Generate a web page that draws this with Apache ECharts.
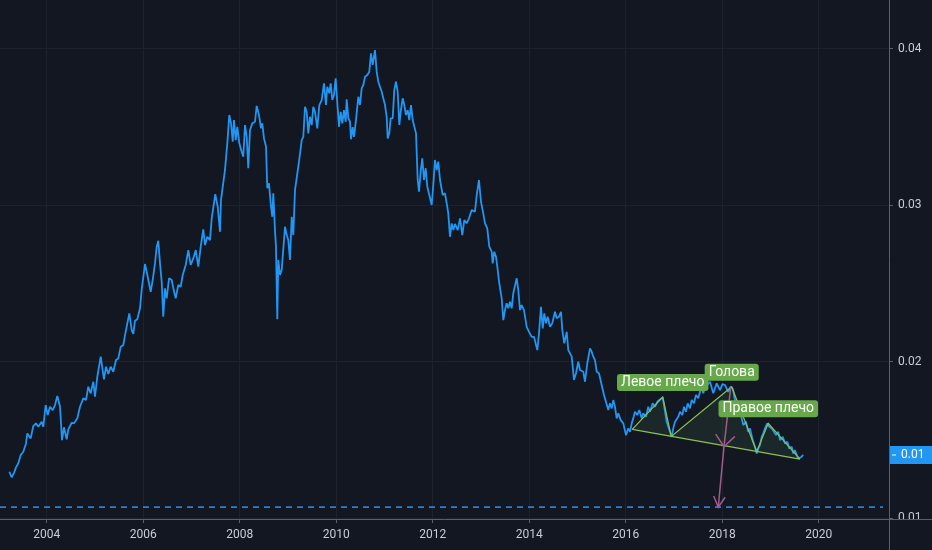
<!DOCTYPE html>
<html>
<head>
<meta charset="utf-8">
<script src="https://cdn.jsdelivr.net/npm/echarts@6/dist/echarts.min.js"></script>
<style>
html,body{margin:0;padding:0;background:#131722;}
#c{width:932px;height:550px;}
</style>
</head>
<body>
<div id="c"></div>
<script>
// ---- data (decimal years, price) ----
const dates = [
2003.225,2003.274,2003.322,2003.364,2003.411,2003.461,2003.515,2003.571,2003.598,2003.668,
2003.722,2003.778,2003.826,2003.896,2003.929,2003.979,2004.021,2004.068,2004.124,2004.172,
2004.220,2004.276,2004.317,2004.358,2004.414,2004.448,2004.518,2004.566,2004.634,2004.690,
2004.758,2004.814,2004.862,2004.912,2004.966,2005.001,2005.049,2005.119,2005.187,2005.229,
2005.277,2005.326,2005.380,2005.436,2005.484,2005.534,2005.587,2005.623,2005.712,2005.762,
2005.795,2005.830,2005.878,2005.934,2005.969,2006.002,2006.037,2006.072,2006.106,2006.155,
2006.197,2006.244,2006.280,2006.313,2006.348,2006.383,2006.416,2006.452,2006.487,2006.535,
2006.591,2006.624,2006.673,2006.727,2006.777,2006.819,2006.881,2006.935,2006.984,2007.038,
2007.088,2007.142,2007.192,2007.245,2007.281,2007.328,2007.384,2007.420,2007.453,2007.494,
2007.544,2007.592,2007.612,2007.648,2007.695,2007.743,2007.784,2007.820,2007.855,2007.882,
2007.917,2007.950,2007.992,2008.041,2008.074,2008.110,2008.145,2008.178,2008.213,2008.261,
2008.317,2008.352,2008.400,2008.441,2008.468,2008.503,2008.545,2008.572,2008.607,2008.642,
2008.675,2008.696,2008.731,2008.752,2008.779,2008.800,2008.835,2008.870,2008.903,2008.939,
2008.974,2009.007,2009.042,2009.078,2009.111,2009.146,2009.181,2009.229,
2009.285,2009.318,2009.353,2009.388,2009.422,2009.457,2009.492,2009.525,2009.560,2009.608,
2009.650,2009.699,2009.747,2009.788,2009.815,2009.857,2009.886,2009.919,2009.954,2009.989,
2010.023,2010.058,2010.093,2010.126,2010.161,2010.197,2010.217,2010.251,2010.286,2010.307,
2010.342,2010.369,2010.410,2010.458,2010.493,2010.528,2010.561,2010.597,2010.644,2010.686,
2010.721,2010.756,2010.804,2010.839,2010.872,2010.908,2010.943,2010.976,2011.011,2011.046,
2011.067,2011.100,2011.129,2011.171,2011.204,2011.239,2011.274,2011.308,2011.337,2011.378,
2011.411,2011.446,2011.482,2011.515,2011.550,2011.585,2011.618,2011.654,2011.689,2011.716,
2011.751,2011.784,2011.819,2011.855,2011.888,2011.929,2011.979,2012.012,2012.047,2012.083,
2012.116,2012.151,2012.207,2012.255,2012.290,2012.323,2012.358,2012.394,2012.427,2012.462,
2012.518,2012.566,2012.613,2012.655,2012.704,2012.752,2012.808,2012.841,2012.876,2012.912,
2012.959,2013.001,2013.048,2013.084,2013.131,2013.173,2013.223,2013.243,2013.276,2013.312,
2013.347,2013.380,2013.430,2013.463,2013.498,2013.533,2013.567,2013.602,2013.637,2013.670,
2013.741,2013.774,2013.809,2013.844,2013.892,2013.948,2013.996,2014.052,2014.099,2014.168,
2014.203,2014.244,2014.280,2014.313,2014.348,2014.383,2014.431,2014.478,2014.534,2014.570,
2014.617,2014.659,2014.686,2014.727,2014.777,2014.810,2014.845,2014.881,2014.928,2014.970,
2015.017,2015.053,2015.088,2015.121,2015.156,2015.204,2015.260,2015.295,2015.328,2015.363,
2015.399,2015.446,2015.502,2015.550,2015.591,2015.639,2015.674,2015.710,2015.743,2015.778,
2015.813,2015.846,2015.896,2015.950,2016.006,2016.054,2016.089,2016.124,2016.157,2016.192,
2016.240,2016.282,2016.331,2016.364,2016.420,2016.468,2016.503,2016.559,2016.607,2016.655,
2016.711,2016.767,2016.800,2016.849,2016.883,2016.918,2016.953,2016.986,2017.021,2017.057,
2017.090,2017.125,2017.173,2017.208,2017.249,2017.285,2017.332,2017.368,2017.415,2017.457,
2017.504,2017.540,2017.575,2017.608,2017.643,
2017.705,2017.747,2017.815,2017.886,2017.954,2018.006,2018.058,2018.126,2018.176,2018.223,
2018.265,2018.333,2018.404,2018.437,2018.493,2018.541,2018.576,2018.632,2018.679,2018.715,
2018.748,2018.783,2018.818,2018.851,2018.887,2018.934,2018.976,2019.026,2019.073,2019.115,
2019.162,2019.198,2019.254,2019.301,2019.349,2019.390,2019.440,2019.473,2019.508,2019.544,
2019.577,2019.612,2019.647,2019.680
];
const prices = [
0.01296,0.01260,0.01289,0.01324,0.01350,0.01403,0.01424,0.01477,0.01541,0.01509,
0.01588,0.01605,0.01583,0.01615,0.01583,0.01722,0.01658,0.01711,0.01690,0.01722,
0.01780,0.01711,0.01498,0.01580,0.01503,0.01567,0.01609,0.01605,0.01637,0.01711,
0.01765,0.01754,0.01839,0.01797,0.01871,0.01775,0.01903,0.02031,0.01886,0.01967,
0.01920,0.01967,0.01935,0.02010,0.02020,0.02095,0.02105,0.02169,0.02308,0.02201,
0.02176,0.02261,0.02270,0.02340,0.02461,0.02468,0.02623,0.02574,0.02564,0.02446,
0.02521,0.02627,0.02734,0.02772,0.02627,0.02510,0.02286,0.02468,0.02404,0.02532,
0.02521,0.02468,0.02404,0.02489,0.02478,0.02553,0.02617,0.02712,0.02617,0.02659,
0.02712,0.02606,0.02734,0.02845,0.02744,0.02797,0.02776,0.02915,0.02925,0.03070,
0.02989,0.02829,0.03032,0.03043,0.03224,0.03394,0.03575,0.03522,0.03405,0.03543,
0.03415,0.03500,0.03394,0.03341,0.03309,0.03511,0.03436,0.03235,0.03479,0.03522,
0.03532,0.03633,0.03575,0.03490,0.03522,0.03426,0.03373,0.03107,0.03139,0.03011,
0.02925,0.03075,0.02840,0.02734,0.02270,0.02649,0.02553,0.02585,0.02574,0.02861,
0.02808,0.02776,0.02649,0.02925,0.02808,0.03096,0.03107,0.03277,
0.03415,0.03436,0.03628,0.03596,0.03458,0.03564,0.03511,0.03628,0.03596,0.03490,
0.03639,0.03671,0.03778,0.03639,0.03756,0.03714,0.03778,0.03671,0.03703,0.03810,
0.03650,0.03500,0.03596,0.03522,0.03607,0.03532,0.03676,0.03554,0.03532,0.03420,
0.03497,0.03436,0.03543,0.03692,0.03639,0.03746,0.03767,0.03820,0.03831,0.03852,
0.03969,0.03895,0.03990,0.03852,0.03788,0.03788,0.03724,0.03682,0.03639,0.03564,
0.03426,0.03458,0.03554,0.03554,0.03735,0.03788,0.03724,0.03511,0.03596,0.03682,
0.03639,0.03575,0.03607,0.03543,0.03639,0.03543,0.03554,0.03458,0.03160,0.03085,
0.03213,0.03298,0.03160,0.03235,0.03117,0.03064,0.03000,0.03128,0.03288,0.03224,
0.03277,0.03160,0.03064,0.03075,0.03011,0.02947,0.02797,0.02883,0.02840,0.02879,
0.02840,0.02915,0.02808,0.02904,0.02883,0.02915,0.02968,0.02979,0.02957,0.03064,
0.03160,0.03021,0.02947,0.02883,0.02851,0.02734,0.02702,0.02627,0.02702,0.02670,
0.02585,0.02500,0.02404,0.02265,0.02329,0.02372,0.02340,0.02382,0.02340,0.02436,
0.02532,0.02457,0.02329,0.02361,0.02329,0.02222,0.02190,0.02158,0.02158,0.02073,
0.02180,0.02350,0.02212,0.02308,0.02244,0.02286,0.02222,0.02244,0.02318,0.02276,
0.02286,0.02318,0.02201,0.02116,0.02190,0.02073,0.02063,0.02031,0.01882,0.01925,
0.01999,0.01946,0.01957,0.01935,0.01871,0.01989,0.02084,0.02063,0.02031,0.02010,
0.01935,0.01925,0.01850,0.01786,0.01743,0.01690,0.01733,0.01701,0.01754,0.01711,
0.01637,0.01669,0.01626,0.01605,0.01530,0.01573,0.01551,0.01605,0.01637,0.01679,
0.01658,0.01690,0.01637,0.01669,0.01647,0.01711,0.01679,0.01733,0.01711,0.01743,
0.01758,0.01771,0.01711,0.01615,0.01626,0.01551,0.01519,0.01573,0.01615,0.01605,
0.01647,0.01679,0.01658,0.01711,0.01679,0.01733,0.01701,0.01754,0.01733,0.01786,
0.01765,0.01807,0.01829,0.01797,0.01839,
0.01856,0.01871,0.01797,0.01861,0.01818,0.01856,0.01850,0.01807,0.01839,0.01824,
0.01754,0.01711,0.01637,0.01594,0.01615,0.01551,0.01573,0.01498,0.01456,0.01413,
0.01445,0.01466,0.01519,0.01541,0.01573,0.01605,0.01583,0.01573,0.01551,0.01530,
0.01551,0.01498,0.01519,0.01477,0.01488,0.01445,0.01456,0.01413,0.01434,0.01403,
0.01381,0.01377,0.01392,0.01403
];

const yearTicks = [2004, 2006, 2008, 2010, 2012, 2014, 2016, 2018, 2020];
const priceTicks = [0.01, 0.02, 0.03, 0.04];

// head & shoulders pattern: start, left shoulder, trough, head, trough, right shoulder, end
const patternDates  = [2016.136, 2016.767, 2016.945, 2018.197, 2018.715, 2018.955, 2019.612];
const patternPrices = [0.01567, 0.01773, 0.01521, 0.01839, 0.01426, 0.01605, 0.01376];
const patternLabels = ['Левое плечо', 'Голова', 'Правое плечо'];
const patternLabelIdx = [1, 3, 5];

// projection arrow: head -> neckline -> target
const arrowDates  = [2018.176, 2018.037, 2017.919];
const arrowPrices = [0.01835, 0.01456, 0.01070];
const targetLevel = 0.01070;

const BG = '#131722';
const LINE = '#2196f3';
const GREEN = '#8cc152';
const LABEL_GREEN = '#66a84a';
const PINK = '#a35a8c';
const AXIS = '#5d606b';
const TEXT = '#c9ccd4';
const DASH = '#2b7fd4';
const FONT = 'Roboto, "Noto Sans", sans-serif';

const chart = echarts.init(document.getElementById('c'));
const lastPrice = prices[prices.length - 1];

function arrowHead(tip, from, len, ang) {
  const dx = from[0] - tip[0], dy = from[1] - tip[1];
  const L = Math.sqrt(dx * dx + dy * dy);
  const ux = dx / L, uy = dy / L;
  const c = Math.cos(ang), s = Math.sin(ang);
  const p1 = [tip[0] + len * (ux * c - uy * s), tip[1] + len * (ux * s + uy * c)];
  const p2 = [tip[0] + len * (ux * c + uy * s), tip[1] + len * (-ux * s + uy * c)];
  return [p1, tip, p2];
}

const option = {
  backgroundColor: BG,
  animation: false,
  grid: { left: 0, right: 43, top: 0, bottom: 31, containLabel: false, outerBoundsMode: 'none' },
  xAxis: {
    type: 'value',
    min: 2003.032,
    max: 2021.457,
    axisLine: { show: true, lineStyle: { color: AXIS, width: 1 } },
    axisTick: { show: true, length: 4, customValues: yearTicks, lineStyle: { color: AXIS } },
    axisLabel: { customValues: yearTicks, color: TEXT, fontSize: 12, fontFamily: FONT, margin: 10,
      formatter: v => String(Math.round(v)) },
    splitLine: { show: true, lineStyle: { color: '#1e222c', width: 1 } }
  },
  yAxis: {
    type: 'value',
    position: 'right',
    min: 0.00994,
    max: 0.0431,
    axisLine: { show: true, lineStyle: { color: AXIS, width: 1 } },
    axisTick: { show: true, length: 4, customValues: priceTicks, lineStyle: { color: AXIS } },
    axisLabel: { customValues: priceTicks, color: TEXT, fontSize: 12, fontFamily: FONT, margin: 9,
      formatter: v => v.toFixed(2) },
    splitLine: { show: true, lineStyle: { color: '#1e222c', width: 1 } }
  },
  series: [
    {
      type: 'line',
      data: dates.map((d, i) => [d, prices[i]]),
      showSymbol: false,
      symbol: 'none',
      lineStyle: { color: LINE, width: 1.8 },
      z: 2,
      markLine: {
        silent: true,
        symbol: ['none', 'none'],
        precision: 6,
        animation: false,
        emphasis: { disabled: true },
        data: [
          { yAxis: lastPrice,
            lineStyle: { color: 'rgba(0,0,0,0)', width: 1, type: 'solid', opacity: 1 },
            label: { show: true, position: 'end', distance: 1,
              formatter: () => '{d|}{v|' + lastPrice.toFixed(2) + '}',
              backgroundColor: LINE, padding: [3, 9, 3, 2],
              rich: {
                d: { width: 4, height: 1, backgroundColor: '#ffffff' },
                v: { color: '#ffffff', fontSize: 12, fontFamily: FONT, padding: [0, 0, 0, 5] }
              } } }
        ]
      }
    },
    {
      type: 'custom',
      coordinateSystem: 'cartesian2d',
      data: [[patternDates[0], patternPrices[0]]],
      z: 5,
      silent: true,
      clip: false,
      renderItem: function (params, api) {
        const cs = params.coordSys;
        const pts = patternDates.map((d, i) => api.coord([d, patternPrices[i]]));
        const a = arrowDates.map((d, i) => api.coord([arrowDates[i], arrowPrices[i]]));
        const yT = api.coord([arrowDates[2], targetLevel])[1];
        const children = [];
        children.push({ type: 'line', shape: { x1: cs.x, y1: yT, x2: cs.x + cs.width - 6, y2: yT },
          style: { stroke: DASH, lineWidth: 1.6, lineDash: [6, 5] } });
        children.push({ type: 'polygon', shape: { points: pts }, style: { fill: 'rgba(102,187,106,0.10)', stroke: null } });
        children.push({ type: 'polyline', shape: { points: pts }, style: { stroke: GREEN, lineWidth: 1.2, fill: null } });
        children.push({ type: 'line', shape: { x1: pts[0][0], y1: pts[0][1], x2: pts[pts.length - 1][0], y2: pts[pts.length - 1][1] },
          style: { stroke: GREEN, lineWidth: 1.2 } });
        children.push({ type: 'polyline', shape: { points: a }, style: { stroke: PINK, lineWidth: 1.5, fill: null } });
        children.push({ type: 'polyline', shape: { points: arrowHead(a[1], a[0], 15, 0.7) }, style: { stroke: PINK, lineWidth: 1.5, fill: null } });
        children.push({ type: 'polyline', shape: { points: arrowHead(a[2], a[0], 12, 0.5) }, style: { stroke: PINK, lineWidth: 1.5, fill: null } });
        patternLabelIdx.forEach((idx, k) => {
          children.push({
            type: 'text',
            x: pts[idx][0], y: pts[idx][1] - 6,
            style: {
              text: patternLabels[k], fill: '#ffffff', fontSize: 14, fontFamily: FONT,
              lineHeight: 15,
              align: 'center', verticalAlign: 'bottom',
              backgroundColor: LABEL_GREEN, padding: [1, 4, 1, 4], borderRadius: 3
            }
          });
        });
        return { type: 'group', children: children };
      }
    }
  ],
  graphic: [
    { type: 'rect', z: 100, shape: { x: 890, y: 520, width: 42, height: 30 }, style: { fill: BG } },
    { type: 'line', z: 101, shape: { x1: 889.5, y1: 519, x2: 889.5, y2: 550 }, style: { stroke: AXIS, lineWidth: 1 } },
    { type: 'line', z: 101, shape: { x1: 889, y1: 519.5, x2: 932, y2: 519.5 }, style: { stroke: AXIS, lineWidth: 1 } }
  ]
};
chart.setOption(option);
</script>
</body>
</html>
